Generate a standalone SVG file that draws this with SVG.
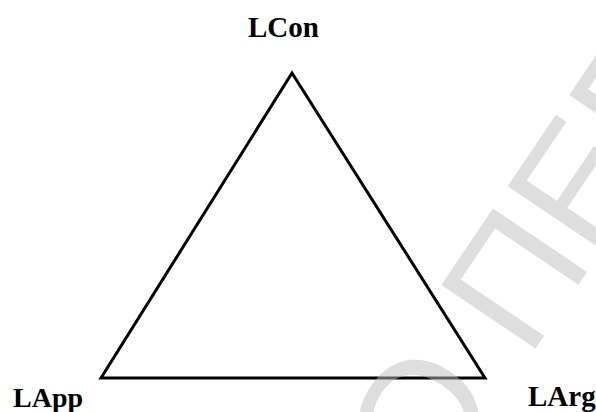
<svg xmlns="http://www.w3.org/2000/svg" width="596" height="412" viewBox="0 0 596 412">
<style>
.lbl{font-family:"Liberation Serif","Times New Roman",serif;font-weight:bold;font-size:28px;fill:#000}
.edge{fill:none;stroke:#000;stroke-width:3;stroke-linejoin:miter}
.wm{font-family:"Liberation Sans",Arial,sans-serif;font-size:165px;fill:#bfbfbf;opacity:0.5}
</style>
<rect width="596" height="412" fill="#fff"/>
<g id="connectors">
<polygon class="edge" points="292,73 101,378 485,378"/>
</g>
<g id="LCon"><text class="lbl" x="248" y="37" style="font-size:29px">LCon</text></g>
<g id="LApp"><text class="lbl" x="13" y="407">LApp</text></g>
<g id="LArg"><text class="lbl" x="528" y="406" style="font-size:29px">LArg</text></g>
<text class="wm" transform="translate(430.6,503.8) rotate(-56)" xml:space="preserve">О ПЕР</text>
</svg>
